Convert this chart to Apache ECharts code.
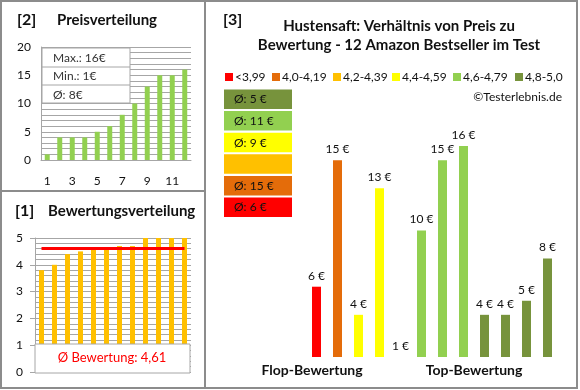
<!DOCTYPE html>
<html><head><meta charset="utf-8">
<script src="https://cdn.jsdelivr.net/npm/echarts@6/dist/echarts.min.js"></script>
<style>html,body{margin:0;padding:0;background:#fff}#c{width:580px;height:390px}</style>
</head><body><div id="c"></div>
<script>
// ---- data ----
const priceCats = ['1','2','3','4','5','6','7','8','9','10','11','12'];
const priceValues = [1, 4, 4, 4, 5, 6, 8, 10, 13, 15, 15, 16];
const ratingValues = [3.8, 4.0, 4.4, 4.5, 4.6, 4.6, 4.7, 4.7, 5.0, 5.0, 5.0, 5.0];
const ratingAvg = 4.61;
const barPrices = [6, 15, 4, 13, 1, 10, 15, 16, 4, 4, 5, 8];
const barClasses = [0, 1, 3, 3, 4, 4, 4, 4, 5, 5, 5, 5];
const classLabels = ['<3,99', '4,0-4,19', '4,2-4,39', '4,4-4,59', '4,6-4,79', '4,8-5,0'];
const groupLabels = ['Flop-Bewertung', 'Top-Bewertung'];
const titleLines = ['Hustensaft: Verhältnis von Preis zu', 'Bewertung - 12 Amazon Bestseller im Test'];

// ---- styles ----
const FONT = 'Lato, "Liberation Sans", sans-serif';
const classColors = ['#FF0000', '#E46C0A', '#FFC000', '#FFFF00', '#92D050', '#77933C'];
const gridColor = '#a6a6a6';
const txt = '#111';

const chart = echarts.init(document.getElementById('c'), null, {renderer: 'canvas'});

const pMax = Math.max(...priceValues), pMin = Math.min(...priceValues);
const pAvg = Math.round(priceValues.reduce((a, b) => a + b, 0) / priceValues.length);

// class averages
const classAvg = classLabels.map((_, ci) => {
  const v = barPrices.filter((_, i) => barClasses[i] === ci);
  return v.length ? Math.round(v.reduce((a, b) => a + b, 0) / v.length) : null;
});

function T(text, x, y, opts) {
  opts = opts || {};
  return {
    type: 'text', z: 100, silent: true,
    style: {
      text: text, x: x, y: y,
      font: (opts.bold ? 'bold ' : '') + (opts.size || 12) + 'px ' + FONT,
      fill: opts.color || txt,
      textAlign: opts.align || 'left', align: opts.align || 'left',
      textVerticalAlign: 'middle', verticalAlign: 'middle'
    }
  };
}
function R(x, y, w, h, fill, stroke, lw, z) {
  return {type: 'rect', z: z || 90, silent: true, shape: {x: x, y: y, width: w, height: h},
    style: {fill: fill, stroke: stroke || null, lineWidth: lw || 0}};
}
function L(x1, y1, x2, y2, c, w) {
  return {type: 'line', z: 110, silent: true, shape: {x1: x1, y1: y1, x2: x2, y2: y2},
    style: {stroke: c, lineWidth: w}};
}

const graphics = [];
// borders
graphics.push(R(1, 1, 576, 387, null, '#8c8c8c', 2, 120));
graphics.push(L(205, 1, 205, 388, '#8c8c8c', 2));
graphics.push(L(1, 191, 205, 191, '#8c8c8c', 2));
// panel titles
graphics.push(T('[2]', 17, 20, {bold: true, size: 16}));
graphics.push(T('Preisverteilung', 57, 20, {bold: true, size: 15}));
graphics.push(T('[1]', 15, 211, {bold: true, size: 16}));
graphics.push(T('Bewertungsverteilung', 48, 211, {bold: true, size: 15}));
graphics.push(T('[3]', 223, 20, {bold: true, size: 16}));
graphics.push(T(titleLines[0], 399, 26, {bold: true, size: 15, align: 'center'}));
graphics.push(T(titleLines[1], 399, 45, {bold: true, size: 15, align: 'center'}));
graphics.push(T('©Testerlebnis.de', 562, 97, {align: 'right'}));
// stats box (panel 2)
graphics.push(R(42, 48, 88, 55, '#fff', '#a6a6a6', 1, 95));
graphics.push(L(42, 67, 130, 67, '#a6a6a6', 1));
graphics.push(L(42, 85, 130, 85, '#a6a6a6', 1));
graphics.push(T('Max.: ' + pMax + '€', 53, 58, {color: '#333'}));
graphics.push(T('Min.: ' + pMin + '€', 53, 76, {color: '#333'}));
graphics.push(T('Ø: ' + pAvg + '€', 53, 95, {color: '#333'}));
// rating average box (panel 1)
graphics.push(R(35, 344, 155, 29, '#fff', '#a6a6a6', 1, 95));
graphics.push(T('Ø Bewertung: ' + ratingAvg.toFixed(2).replace('.', ','), 112, 358, {size: 13, color: '#FF0000', align: 'center'}));
// legend
const legX = [225, 272, 333, 392, 453, 515];
classLabels.forEach((lab, i) => {
  graphics.push(R(legX[i], 73, 8, 8, classColors[i], null, 0, 95));
  graphics.push(T(lab, legX[i] + 10, 77, {size: 12}));
});
// class average boxes (highest class on top)
for (let k = 0; k < 6; k++) {
  const ci = 5 - k;
  const y = 89.5 + k * 21.6;
  graphics.push(R(224, y, 68, 19.5, classColors[ci], null, 0, 95));
  if (classAvg[ci] !== null) graphics.push(T('Ø: ' + classAvg[ci] + ' €', 234, y + 10, {size: 12}));
}
// group labels
graphics.push(T(groupLabels[0], 312, 370, {bold: true, size: 14, align: 'center'}));
graphics.push(T(groupLabels[1], 474, 370, {bold: true, size: 14, align: 'center'}));

const option = {
  animation: false,
  textStyle: {fontFamily: FONT},
  grid: [
    {left: 41, top: 47, width: 150, height: 113},
    {left: 35, top: 238, width: 156, height: 134},
    {left: 306, top: 118, width: 252, height: 239}
  ],
  xAxis: [
    {gridIndex: 0, type: 'category', data: priceCats,
      axisLine: {show: true, lineStyle: {color: gridColor}}, axisTick: {show: false},
      axisLabel: {interval: 1, margin: 15, color: txt, fontSize: 12, fontFamily: FONT}},
    {gridIndex: 1, type: 'category', data: priceCats, axisLine: {show: false}, axisTick: {show: false}, axisLabel: {show: false}},
    {gridIndex: 2, type: 'category', data: barPrices.map((_, i) => String(i + 1)), show: false}
  ],
  yAxis: [
    {gridIndex: 0, type: 'value', min: 0, max: 20, interval: 5,
      axisLine: {show: true, lineStyle: {color: gridColor}}, axisTick: {show: false},
      axisLabel: {margin: 10, color: txt, fontSize: 12, fontFamily: FONT},
      splitLine: {lineStyle: {color: gridColor}},
      minorTick: {show: false, splitNumber: 5},
      minorSplitLine: {show: true, lineStyle: {color: gridColor}}},
    {gridIndex: 1, type: 'value', min: 0, max: 5, interval: 1,
      axisLine: {show: true, lineStyle: {color: gridColor}},
      axisTick: {show: true, length: 5, lineStyle: {color: gridColor}},
      axisLabel: {margin: 12, color: txt, fontSize: 12, fontFamily: FONT},
      splitLine: {lineStyle: {color: gridColor}},
      minorTick: {show: false, splitNumber: 5},
      minorSplitLine: {show: true, lineStyle: {color: gridColor}}},
    {gridIndex: 2, type: 'value', min: 1, max: 18, show: false, splitLine: {show: false}}
  ],
  series: [
    {type: 'bar', xAxisIndex: 0, yAxisIndex: 0, data: priceValues, barWidth: 5,
      itemStyle: {color: '#92D050'}},
    {type: 'bar', xAxisIndex: 1, yAxisIndex: 1, data: ratingValues, barWidth: 5,
      itemStyle: {color: '#FFC000'},
      markLine: {silent: true, symbol: 'none', label: {show: false},
        lineStyle: {color: '#FF0000', width: 3, type: 'solid'},
        data: [[{coord: [0, ratingAvg]}, {coord: [ratingValues.length - 1, ratingAvg]}]]}},
    {type: 'bar', xAxisIndex: 2, yAxisIndex: 2, barWidth: 9,
      data: barPrices.map((v, i) => ({value: v, itemStyle: {color: classColors[barClasses[i]]}})),
      label: {show: true, position: 'top', distance: 5, color: txt, fontSize: 12, fontFamily: FONT,
        formatter: p => p.value + ' €'}}
  ],
  graphic: {elements: graphics}
};
chart.setOption(option);
</script>
</body></html>
